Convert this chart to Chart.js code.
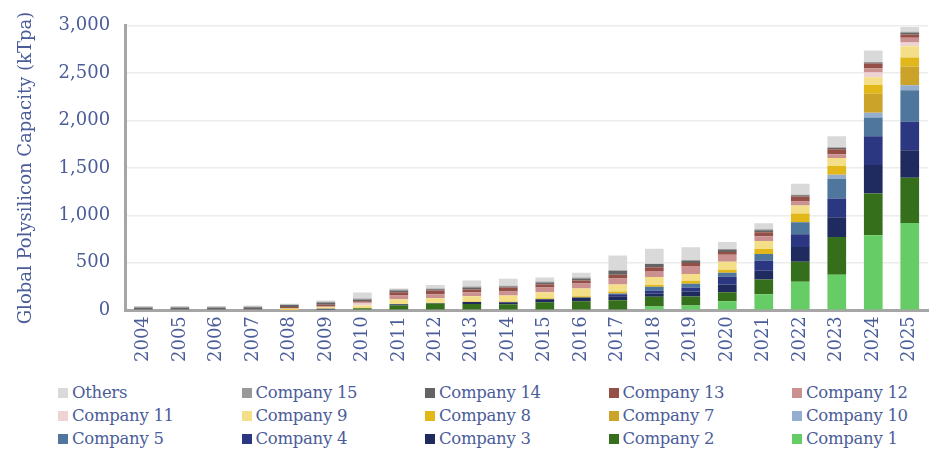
<!DOCTYPE html>
<html>
<head>
<meta charset="utf-8">
<script src="https://cdn.jsdelivr.net/npm/chart.js@4/dist/chart.umd.min.js"></script>
<style>
  html, body { margin: 0; padding: 0; background: #fff; }
  #wrap { position: relative; width: 952px; height: 457px; }
  #box { position: absolute; left: 0; top: 0; width: 952px; height: 368px; }
  #legend {
    position: absolute; left: 58px; top: 383px;
    display: grid; grid-template-columns: repeat(5, 183.5px); row-gap: 4px;
    font-family: 'DejaVu Serif', serif; font-size: 16.5px; color: #4b5d99;
  }
  .item { display: flex; align-items: center; height: 19px; white-space: nowrap; letter-spacing: -0.3px; }
  .sw { width: 10px; height: 10px; margin-right: 4px; flex: none; }
</style>
</head>
<body>
<div id="wrap">
  <div id="box"><canvas id="chart"></canvas></div>
  <div id="legend"></div>
</div>
<script>
// anos
const years = ['2004','2005','2006','2007','2008','2009','2010','2011','2012','2013','2014',
               '2015','2016','2017','2018','2019','2020','2021','2022','2023','2024','2025'];
const yTicks = [0, 500, 1000, 1500, 2000, 2500, 3000];

// capacidade por empresa (kTpa), de baixo para cima na pilha
const company1  = [0,0,0,0,0,0,0,0,0,0,0,0,0,0,38,50,94,167,300,375,790,920];
const company2  = [0,0,0,0,0,0,20,52,70,66,63,83,94,104,104,94,94,156,210,396,440,476];
const company3  = [0,0,0,0,0,14,0,11,6,21,20,32,41,42,35,52,83,94,157,209,302,292];
const company4  = [0,0,0,0,0,0,0,0,0,0,0,0,0,21,27,42,83,104,135,198,302,300];
const company5  = [0,0,0,0,0,0,0,0,0,0,0,0,0,10,42,41,42,73,125,208,198,333];
const company10 = [0,0,0,0,0,0,0,0,0,0,0,0,0,0,0,0,0,0,0,42,52,52];
const company7  = [0,0,0,0,0,0,0,0,0,0,0,0,0,0,0,0,0,0,0,0,198,198];
const company8  = [0,0,0,0,3,0,5,0,0,5,10,10,11,21,21,31,31,52,94,93,94,94];
const company9  = [0,0,0,0,14,20,25,52,49,54,62,63,83,73,83,73,84,83,83,84,80,118];
const company11 = [0,0,0,0,0,0,20,0,0,0,0,0,0,0,0,0,0,0,0,0,52,42];
const company12 = [0,0,0,0,0,7,12,41,42,42,42,52,52,62,63,84,73,52,42,41,45,48];
const company13 = [0,0,0,10,17,17,12,32,41,31,42,31,32,42,41,31,31,42,52,52,49,35];
const company14 = [25,25,25,20,22,24,20,20,14,21,10,21,20,42,32,21,21,21,14,14,10,18];
const company15 = [10,10,10,10,5,7,10,11,6,10,10,10,11,5,5,10,10,10,7,7,6,10];
const others    = [10,10,10,10,8,13,63,10,38,63,73,42,52,156,156,136,73,63,115,115,122,52];

const series = [
  ['Company 1', company1, '#66cc66'],
  ['Company 2', company2, '#366f1b'],
  ['Company 3', company3, '#1f2a5f'],
  ['Company 4', company4, '#2b3780'],
  ['Company 5', company5, '#4f779d'],
  ['Company 10', company10, '#95aecf'],
  ['Company 7', company7, '#cca329'],
  ['Company 8', company8, '#e1b719'],
  ['Company 9', company9, '#f4df88'],
  ['Company 11', company11, '#eed3d3'],
  ['Company 12', company12, '#cb9190'],
  ['Company 13', company13, '#944f47'],
  ['Company 14', company14, '#646464'],
  ['Company 15', company15, '#999999'],
  ['Others', others, '#d9d9d9']
];

const textColor = '#4b5d99';
Chart.defaults.font.family = "'DejaVu Serif', serif";
Chart.defaults.color = textColor;

const chart = new Chart(document.getElementById('chart'), {
  type: 'bar',
  data: {
    labels: years,
    datasets: series.map(([label, data, color]) => ({
      label, data, backgroundColor: color, borderWidth: 0,
      categoryPercentage: 0.8, barPercentage: 0.64
    }))
  },
  options: {
    responsive: true, maintainAspectRatio: false, animation: false,
    layout: { padding: { left: 12, right: 24, top: 12, bottom: 0 } },
    plugins: { legend: { display: false }, tooltip: { enabled: false } },
    scales: {
      x: {
        stacked: true,
        grid: { display: false, drawTicks: false },
        border: { color: '#a6a6a6', width: 3 },
        ticks: { font: { size: 18 }, color: textColor, maxRotation: 90, minRotation: 90, padding: 6, autoSkip: false }
      },
      y: {
        stacked: true, min: 0, max: 3000,
        afterBuildTicks: (axis) => { axis.ticks = yTicks.map(v => ({ value: v })); },
        grid: { color: '#ececec', lineWidth: 1.5, drawTicks: false },
        border: { color: '#a6a6a6', width: 3 },
        ticks: { font: { size: 18 }, color: textColor, padding: 15,
                 callback: (v) => Number(v).toLocaleString('en-US') },
        title: { display: true, text: 'Global Polysilicon Capacity (kTpa)', font: { size: 18 }, color: textColor, padding: { bottom: 6 } }
      }
    }
  }
});

// legenda em grade de 5 colunas, ordem invertida
const legendEl = document.getElementById('legend');
series.slice().reverse().forEach(([label, , color]) => {
  const it = document.createElement('div');
  it.className = 'item';
  it.innerHTML = '<span class="sw" style="background:' + color + '"></span><span>' + label + '</span>';
  legendEl.appendChild(it);
});
</script>
</body>
</html>
